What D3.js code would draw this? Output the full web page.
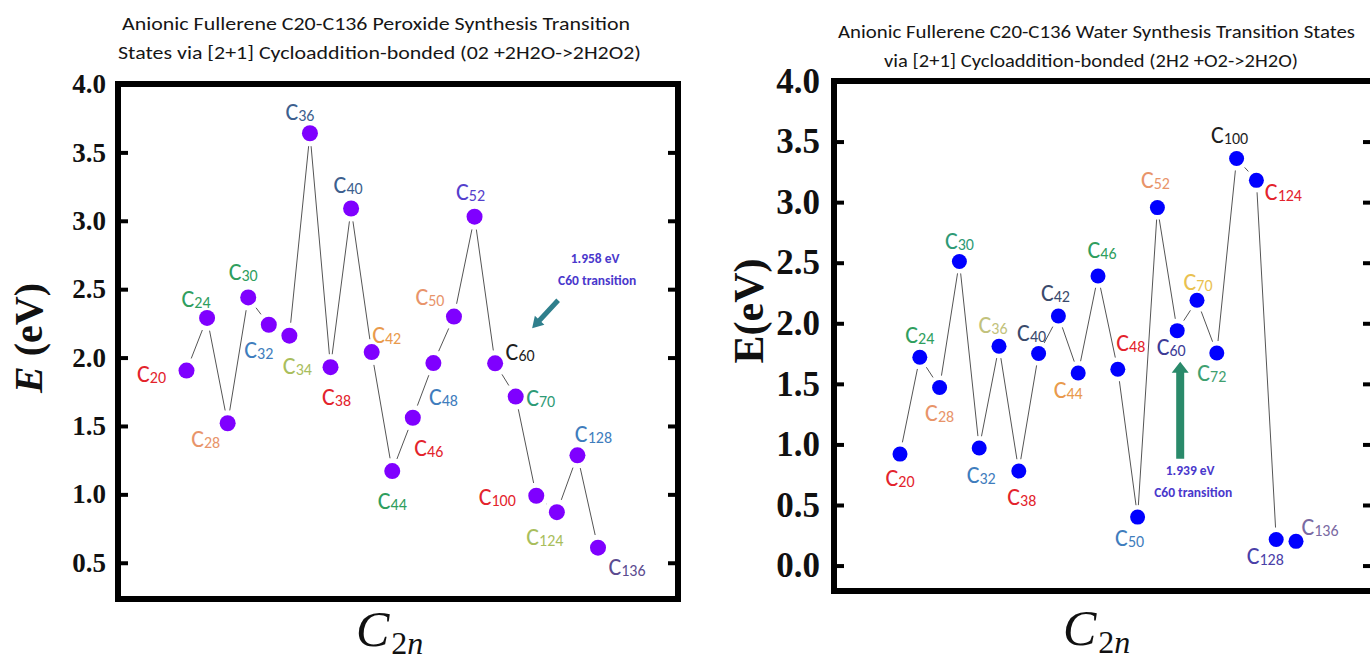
<!DOCTYPE html>
<html>
<head>
<meta charset="utf-8">
<script src="https://cdn.jsdelivr.net/npm/d3@7"></script>
<style>
  body { margin: 0; background: #fff; }
  svg { display: block; }
</style>
</head>
<body>
<svg id="chart" width="1370" height="664"></svg>
<script>
// ---- Peroxide synthesis (O2 + 2H2O -> 2H2O2) transition-state energies ----
const peroxideSizes  = ["20","24","28","30","32","34","36","38","40","42","44","46","48","50","52","60","70","100","124","128","136"];
const peroxideEnergy = [1.905, 2.29, 1.52, 2.44, 2.24, 2.16, 3.64, 1.93, 3.09, 2.04, 1.17, 1.56, 1.96, 2.30, 3.03, 1.958, 1.715, 0.99, 0.87, 1.285, 0.61];
const peroxideTicks  = [0.5, 1.0, 1.5, 2.0, 2.5, 3.0, 3.5, 4.0];
const peroxideTitle  = ["Anionic Fullerene C20-C136 Peroxide Synthesis Transition",
                        "States via [2+1] Cycloaddition-bonded (02 +2H2O->2H2O2)"];
const peroxideNote   = ["1.958 eV", "C60 transition"];

// ---- Water synthesis (2H2 + O2 -> 2H2O) transition-state energies ----
const waterSizes  = ["20","24","28","30","32","36","38","40","42","44","46","48","50","52","60","70","72","100","124","128","136"];
const waterEnergy = [0.92, 1.72, 1.47, 2.51, 0.97, 1.81, 0.78, 1.75, 2.06, 1.59, 2.39, 1.62, 0.40, 2.955, 1.939, 2.19, 1.755, 3.36, 3.18, 0.215, 0.20];
const waterTicks  = [0.0, 0.5, 1.0, 1.5, 2.0, 2.5, 3.0, 3.5, 4.0];
const waterTitle  = ["Anionic Fullerene C20-C136 Water Synthesis Transition States",
                     "via [2+1] Cycloaddition-bonded (2H2 +O2->2H2O)"];
const waterNote   = ["1.939 eV", "C60 transition"];

// ---- label styling: colour and offset (dx, dy) from each marker ----
const C = {
  red: "#e3232c", green: "#2f9e5e", sand: "#e8946a", steel: "#3f7dbd", olive: "#a9be5c",
  slate: "#3d5f8e", purple: "#5540cc", black: "#1e1e1e", teal: "#2e9a76", violet: "#5b4b8f",
  orange: "#e99a4c", khaki: "#c2c27c", navy: "#3a4a6c", indigo: "#3d3b96", gold: "#e9c150",
  lilac: "#7a6aa2"
};
const peroxideLabelColors = [C.red, C.green, C.sand, C.green, C.steel, C.olive, C.slate, C.red, C.slate, C.orange,
  C.green, C.red, C.steel, C.sand, C.purple, C.black, C.teal, C.red, C.olive, C.steel, C.violet];
const peroxideLabelOffsets = [[-35,3],[-11,-19],[-22,16],[-5,-25],[-10,25],[8,30],[-10,-21],[6,30],[-3,-23],[15,-17],
  [0,30],[16,30],[10,34],[-24,-20],[-4,-25],[25,-11],[25,1],[-39,1],[-12,25],[16,-21],[29,19]];

const waterLabelColors = [C.red, C.green, C.sand, C.teal, C.steel, C.khaki, C.red, C.navy, C.navy, C.orange,
  C.green, C.red, C.steel, C.sand, C.indigo, C.gold, "#3fa070", C.black, C.red, "#4a40a8", C.lilac];
const waterLabelOffsets = [[0,24],[0,-22],[0,26],[0,-20],[2,27],[-6,-21],[3,26],[-7,-21],[-3,-23],[-10,17],
  [4,-26],[13,-26],[-8,21],[-2,-28],[-6,16],[1,-18],[-5,20],[-7,-24],[27,12],[-11,16],[24,-14]];

const svg = d3.select("#chart");
const LABEL_FONT = "Carlito, Calibri, Lato, 'Open Sans', sans-serif";
const SERIF = "'Liberation Serif', 'Times New Roman', serif";

function drawPanel(p) {
  const g = svg.append("g");
  const f = p.frame;
  const x = d3.scalePoint().domain(p.sizes).range(p.xRange);
  const y = d3.scaleLinear().domain(p.yDomain).range([f.bottom, f.top]);

  // two-line title
  p.title.forEach((t, i) => {
    g.append("text")
      .attr("x", p.titlePos[i][0]).attr("y", p.titlePos[i][1])
      .attr("text-anchor", "middle")
      .attr("textLength", p.titlePos[i][2]).attr("lengthAdjust", "spacingAndGlyphs")
      .attr("font-family", LABEL_FONT).attr("font-size", 18).attr("fill", "#161616")
      .text(t);
  });

  // left axis with inward ticks
  const axL = g.append("g").attr("transform", `translate(${f.left},0)`)
    .call(d3.axisLeft(y).tickValues(p.ticks).tickFormat(d3.format(".1f"))
      .tickSize(-p.tickLen).tickPadding(p.tickPad));
  axL.select(".domain").remove();
  axL.selectAll(".tick line").attr("stroke", "#000").attr("stroke-width", 4);
  axL.selectAll(".tick text")
    .attr("font-family", SERIF).attr("font-weight", "bold")
    .attr("font-size", p.tickFont).attr("fill", "#111");

  // mirrored ticks on the right edge
  const axR = g.append("g").attr("transform", `translate(${f.right},0)`)
    .call(d3.axisRight(y).tickValues(p.ticks).tickFormat("").tickSize(-p.tickLen));
  axR.select(".domain").remove();
  axR.selectAll(".tick line").attr("stroke", "#000").attr("stroke-width", 4);

  // heavy frame
  g.append("rect")
    .attr("x", f.left).attr("y", f.top)
    .attr("width", f.right - f.left).attr("height", f.bottom - f.top)
    .attr("fill", "none").attr("stroke", "#000").attr("stroke-width", 6);

  // axis titles
  const yt = g.append("text")
    .attr("transform", `translate(${p.yTitlePos[0]},${p.yTitlePos[1]}) rotate(-90)`)
    .attr("text-anchor", "middle")
    .attr("font-family", SERIF).attr("font-weight", "bold")
    .attr("font-size", p.yTitleFont).attr("fill", "#111");
  yt.append("tspan").attr("font-style", p.yTitleItalic ? "italic" : "normal").text("E");
  yt.append("tspan").text(p.yTitleItalic ? " (eV)" : "(eV)");

  const xt = g.append("text")
    .attr("x", p.xTitlePos[0]).attr("y", p.xTitlePos[1])
    .attr("font-family", SERIF)
    .attr("font-size", 50).attr("fill", "#111");
  xt.append("tspan").attr("font-style", "italic").text("C");
  xt.append("tspan").attr("font-size", 32).attr("dy", 8).attr("dx", 2).text("2");
  xt.append("tspan").attr("font-size", 32).attr("font-style", "italic").text("n");

  // connecting segments, trimmed short of the markers
  const pts = p.sizes.map((s, i) => [x(s), y(p.energy[i])]);
  d3.pairs(pts).forEach(([a, b]) => {
    const dx = b[0] - a[0], dy = b[1] - a[1], L = Math.hypot(dx, dy);
    if (L <= 2 * p.gap) return;
    const t = p.gap / L;
    g.append("line")
      .attr("x1", a[0] + dx * t).attr("y1", a[1] + dy * t)
      .attr("x2", b[0] - dx * t).attr("y2", b[1] - dy * t)
      .attr("stroke", "#555").attr("stroke-width", 1);
  });

  // markers
  g.selectAll("circle.pt").data(p.energy).join("circle")
    .attr("class", "pt")
    .attr("cx", (d, i) => x(p.sizes[i])).attr("cy", d => y(d))
    .attr("r", p.r).attr("fill", p.markerColor);

  // C_n labels
  p.sizes.forEach((s, i) => {
    const [ox, oy] = p.labelOffsets[i];
    const t = g.append("text")
      .attr("x", x(s) + ox).attr("y", y(p.energy[i]) + oy + 8)
      .attr("text-anchor", "middle")
      .attr("font-family", LABEL_FONT).attr("fill", p.labelColors[i]);
    t.append("tspan").attr("font-size", 24).text("C");
    t.append("tspan").attr("font-size", 16).attr("dy", 1).text(s);
  });

  // C60 annotation
  const i60 = p.sizes.indexOf("60");
  const cx = x("60"), cy = y(p.energy[i60]);
  const a = p.arrow;
  const tip = [cx + a.tip[0], cy + a.tip[1]], tail = [cx + a.tail[0], cy + a.tail[1]];
  const ang = Math.atan2(tip[1] - tail[1], tip[0] - tail[0]);
  const ux = Math.cos(ang), uy = Math.sin(ang), nx = -uy, ny = ux;
  const base = [tip[0] - ux * a.headLen, tip[1] - uy * a.headLen];
  const hs = a.shaft / 2, hh = a.headW / 2;
  const poly = [
    [tail[0] + nx * hs, tail[1] + ny * hs],
    [base[0] + nx * hs, base[1] + ny * hs],
    [base[0] + nx * hh, base[1] + ny * hh],
    tip,
    [base[0] - nx * hh, base[1] - ny * hh],
    [base[0] - nx * hs, base[1] - ny * hs],
    [tail[0] - nx * hs, tail[1] - ny * hs]
  ];
  g.append("path").attr("d", d3.line()(poly) + "Z").attr("fill", a.color);

  p.note.forEach((t, k) => {
    g.append("text")
      .attr("x", cx + p.notePos[k][0]).attr("y", cy + p.notePos[k][1] + 5)
      .attr("text-anchor", "middle")
      .attr("font-family", LABEL_FONT).attr("font-weight", "bold")
      .attr("font-size", 13.5).attr("fill", "#4a38cc")
      .text(t);
  });
}

drawPanel({
  sizes: peroxideSizes, energy: peroxideEnergy, ticks: peroxideTicks,
  title: peroxideTitle, note: peroxideNote,
  labelColors: peroxideLabelColors, labelOffsets: peroxideLabelOffsets,
  frame: { left: 118, right: 678, top: 84, bottom: 599 },
  xRange: [186.5, 598], yDomain: [0.235, 4.0],
  titlePos: [[376, 30, 508], [379.5, 59, 523]],
  tickLen: 10, tickPad: 12, tickFont: 27,
  yTitlePos: [42, 338], yTitleFont: 40, yTitleItalic: true,
  xTitlePos: [356, 646],
  r: 8, gap: 13, markerColor: "#7f00ff",
  arrow: { tip: [37, -35], tail: [63, -63], shaft: 5, headW: 13, headLen: 11, color: "#2f7f8c" },
  notePos: [[100, -105], [102, -83]]
});

drawPanel({
  sizes: waterSizes, energy: waterEnergy, ticks: waterTicks,
  title: waterTitle, note: waterNote,
  labelColors: waterLabelColors, labelOffsets: waterLabelOffsets,
  frame: { left: 834, right: 1373, top: 81, bottom: 591 },
  xRange: [900, 1296], yDomain: [-0.21, 4.0],
  titlePos: [[1096.5, 38, 517], [1091, 67, 414]],
  tickLen: 10, tickPad: 14, tickFont: 35,
  yTitlePos: [763, 311], yTitleFont: 42, yTitleItalic: false,
  xTitlePos: [1063, 645],
  r: 7.5, gap: 12, markerColor: "#0000ff",
  arrow: { tip: [3, 31], tail: [3, 128], shaft: 8, headW: 17, headLen: 11, color: "#2a8a6a" },
  notePos: [[13, 139], [16, 161]]
});
</script>
</body>
</html>
